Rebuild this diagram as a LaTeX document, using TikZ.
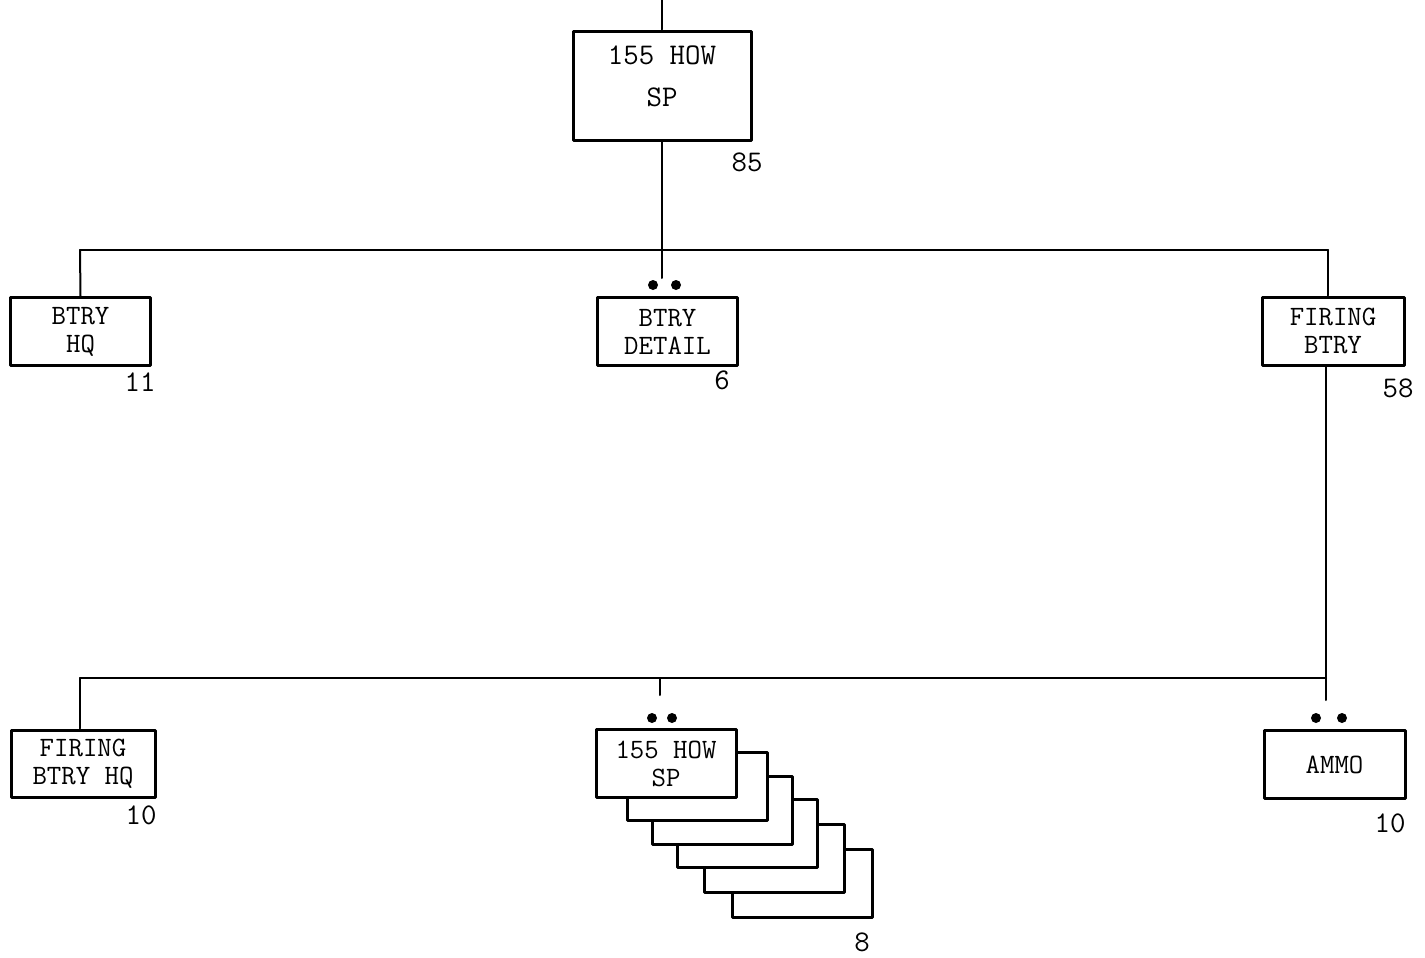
\documentclass[tikz,border=0pt]{standalone}
\usepackage{fontspec}
\tikzset{
  unit/.style={draw,line width=1.5pt,fill=white,minimum width=70pt,minimum height=34pt,
    inner sep=1pt,align=center,font=\fontsize{14}{14}\selectfont\ttfamily},
  link/.style={line width=1pt},
  strength/.style={inner sep=0pt,font=\fontsize{15}{15}\selectfont\ttfamily},
  pip/.style={circle,fill,inner sep=0pt,minimum size=5pt}
}
\begin{document}
\begin{tikzpicture}[x=0.5pt,y=-0.5pt,line cap=round,line join=round]
  \useasboundingbox (0,0) rectangle (1425,958);
  % battalion box
  \coordinate (in) at (662,0);
  \node[unit,minimum width=89pt,minimum height=54.5pt,font=\fontsize{15}{15}\selectfont\ttfamily] (how) at (662,85.5) {155 HOW\\[6pt]SP\\[-6pt]\mbox{}};
  \draw[link] (in) -- (how.north);
  \node[strength] (how-n) at (747,162) {85};
  % first row
  \coordinate (bus1w) at (80,250);
  \coordinate (bus1e) at (1328,250);
  \node[unit] (bhq) at (80.5,331.5) {BTRY\\HQ};
  \node[unit] (bdet) at (667.5,331.5) {BTRY\\DETAIL};
  \node[unit,minimum width=71pt] (fbtry) at (1333,331) {FIRING\\BTRY};
  \node[strength] (bhq-n) at (140,382) {11};
  \node[strength] (bdet-n) at (722,380) {6};
  \node[strength] (fbtry-n) at (1398,388) {58};
  \node[pip] (bdet-p1) at (653,285) {};
  \node[pip] (bdet-p2) at (676,285) {};
  \draw[link] (how.south) -- (how.south |- bus1w) -- ++(0,28);
  \draw[link] (bus1w) -- (bus1e);
  \draw[link] (bus1w) -- (bhq.north);
  \draw[link] (bus1e) -- (bus1e |- fbtry.north);
  % second row
  \coordinate (bus2w) at (80,678);
  \coordinate (bus2e) at (1326,678);
  \foreach \dx/\dy [count=\k] in {136/120,108/95,81/70,56/47,31/23}
    \node[unit] (gun\k) at ({666+\dx},{763.5+\dy}) {};
  \node[unit,minimum width=72pt,minimum height=33.5pt] (fhq) at (83,763.5) {FIRING\\BTRY HQ};
  \node[unit] (gun) at (666,763.5) {155 HOW\\SP};
  \node[unit,minimum width=70.5pt] (ammo) at (1334.5,764.5) {AMMO};
  \node[strength] (fhq-n) at (141,815) {10};
  \node[strength] (gun-n) at (862,942) {8};
  \node[strength] (ammo-n) at (1390,823) {10};
  \node[pip] (gun-p1) at (652,718) {};
  \node[pip] (gun-p2) at (672,718) {};
  \node[pip] (ammo-p1) at (1316,718) {};
  \node[pip] (ammo-p2) at (1342,718) {};
  \draw[link] (fbtry.south -| bus2e) -- (bus2e) -- ++(0,22);
  \draw[link] (bus2w) -- (bus2e);
  \draw[link] (bus2w) -- (fhq.north -| bus2w);
  \draw[link] (660,678) -- (660,695);
\end{tikzpicture}
\end{document}
